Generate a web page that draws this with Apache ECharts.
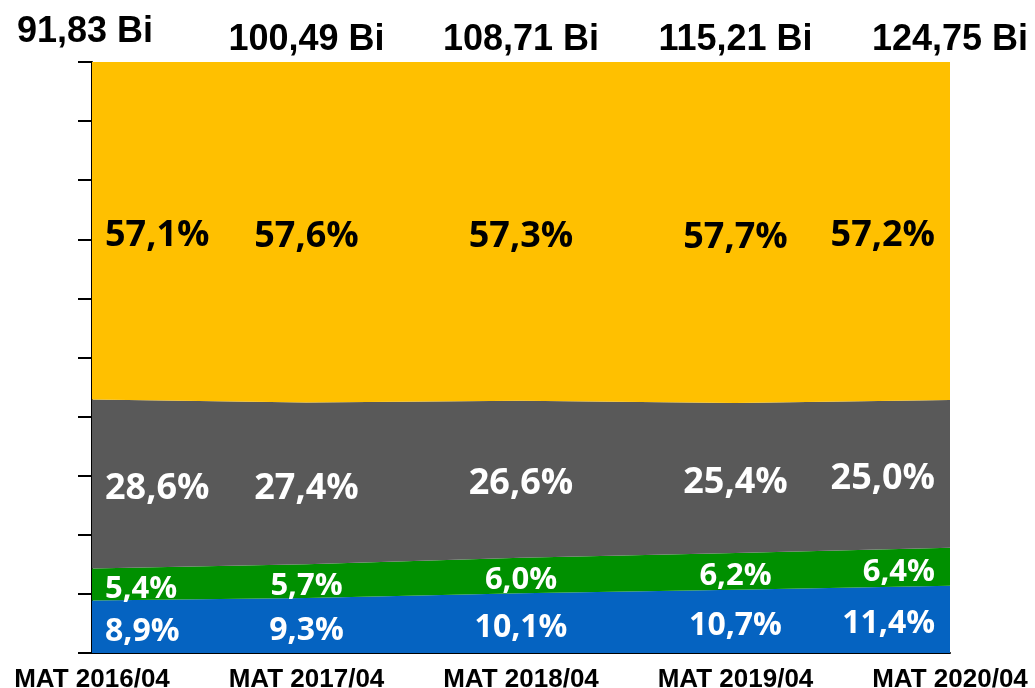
<!DOCTYPE html>
<html>
<head>
<meta charset="utf-8">
<script src="https://cdn.jsdelivr.net/npm/echarts@6/dist/echarts.min.js"></script>
<style>
  html, body { margin: 0; padding: 0; background: #fff; }
  #chart { width: 1035px; height: 688px; }
</style>
</head>
<body>
<div id="chart"></div>
<script>
const categories = ['MAT 2016/04', 'MAT 2017/04', 'MAT 2018/04', 'MAT 2019/04', 'MAT 2020/04']
const totals = ['91,83 Bi', '100,49 Bi', '108,71 Bi', '115,21 Bi', '124,75 Bi']

// shares in %, bottom to top of the stack
const blueShare = [8.9, 9.3, 10.1, 10.7, 11.4]
const greenShare = [5.4, 5.7, 6.0, 6.2, 6.4]
const greyShare = [28.6, 27.4, 26.6, 25.4, 25.0]
const yellowShare = [57.1, 57.6, 57.3, 57.7, 57.2]

const bands = [
  { name: 'blue', data: blueShare, color: '#0563C1', text: '#fff', size: 32 },
  { name: 'green', data: greenShare, color: '#009000', text: '#fff', size: 31 },
  { name: 'grey', data: greyShare, color: '#595959', text: '#fff', size: 36 },
  { name: 'yellow', data: yellowShare, color: '#FFC000', text: '#000', size: 36 }
]

const fmt = v => v.toFixed(1).replace('.', ',') + '%'

const chart = echarts.init(document.getElementById('chart'))

const areaSeries = bands.map(b => ({
  name: b.name,
  type: 'line',
  stack: 'share',
  data: b.data,
  symbol: 'none',
  lineStyle: { width: 0 },
  areaStyle: { color: b.color, opacity: 1 },
  itemStyle: { color: b.color },
  silent: true,
  z: 2
}))

// label points sit in the middle of each band
const base = [0, 0, 0, 0, 0]
const labelSeries = bands.map(b => {
  const pts = b.data.map((v, i) => {
    const mid = base[i] + v / 2
    base[i] += v
    let label = { position: 'inside' }
    if (i === 0) label = { position: 'right', distance: 13 }
    if (i === b.data.length - 1) label = { position: 'left', distance: 15 }
    return { value: mid, raw: v, label }
  })
  return {
    type: 'scatter',
    data: pts,
    symbolSize: 0,
    silent: true,
    z: 5,
    itemStyle: { color: b.color, opacity: 1 },
    label: {
      show: true,
      color: b.text,
      opacity: 1,
      textBorderWidth: 0,
      offset: [0, 5],
      fontFamily: 'Open Sans',
      fontWeight: 'bold',
      fontSize: b.size,
      formatter: p => fmt(p.data.raw)
    }
  }
})

const option = {
  animation: false,
  grid: { left: 92, right: 85, top: 62, bottom: 35, outerBoundsMode: 'none', containLabel: false },
  xAxis: [
    {
      type: 'category',
      data: categories,
      boundaryGap: false,
      position: 'bottom',
      axisLine: { show: true, lineStyle: { color: '#000', width: 2 } },
      axisTick: { show: false },
      axisLabel: {
        interval: 0,
        margin: 14,
        color: '#000',
        fontFamily: 'Liberation Sans',
        fontWeight: 'bold',
        fontSize: 26
      },
      splitLine: { show: false }
    },
    {
      type: 'category',
      data: totals.map((t, i) => i === 0 ? { value: t, textStyle: { padding: [0, 14, 8, 0] } } : t),
      boundaryGap: false,
      position: 'top',
      axisLine: { show: false },
      axisTick: { show: false },
      axisLabel: {
        interval: 0,
        margin: 4,
        color: '#000',
        fontFamily: 'Liberation Sans',
        fontWeight: 'bold',
        fontSize: 36
      },
      splitLine: { show: false }
    }
  ],
  yAxis: {
    type: 'value',
    min: 0,
    max: 100,
    interval: 10,
    axisLine: { show: true, lineStyle: { color: '#000', width: 2 } },
    axisTick: { show: true, length: 14, lineStyle: { color: '#000', width: 2 } },
    axisLabel: { show: false },
    splitLine: { show: false }
  },
  series: [...areaSeries, ...labelSeries]
}

chart.setOption(option)
</script>
</body>
</html>
